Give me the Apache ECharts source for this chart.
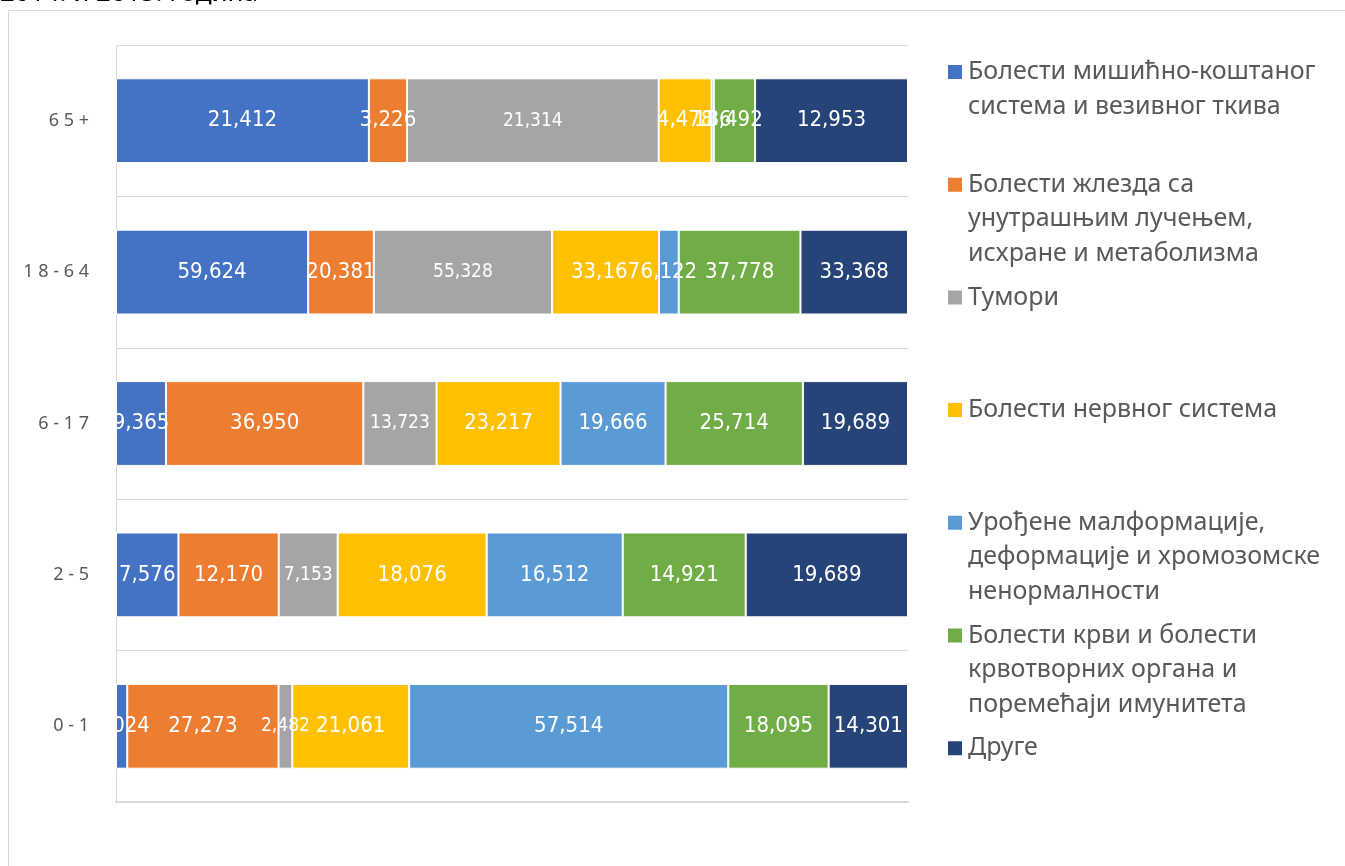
<!DOCTYPE html>
<html>
	<head>
		<meta charset="utf-8">
		<title></title>
		<script src="https://cdn.jsdelivr.net/npm/echarts@6/dist/echarts.min.js"></script>
		<style>
			html, body { margin: 0; padding: 0; background: #fff; }
		</style>
	</head>
	<body>
		<div id="main" style="width: 1345px;height:866px;"></div>
		<script>
			// категорије (одоздо нагоре)
			var categories = ['0-1', '2-5', '6-17', '18-64', '65+'];

			// серије, вредности по категоријама
			var musculo = [2024, 7576, 9365, 59624, 21412];
			var glands = [27273, 12170, 36950, 20381, 3226];
			var tumors = [2482, 7153, 13723, 55328, 21314];
			var nervous = [21061, 18076, 23217, 33167, 4478];
			var congenital = [57514, 16512, 19666, 6122, 186];
			var blood = [18095, 14921, 25714, 37778, 3492];
			var other = [14301, 19689, 19689, 33368, 12953];

			var names = [
				'Болести мишићно-коштаног\nсистема и везивног ткива',
				'Болести жлезда са\nунутрашњим лучењем,\nисхране и метаболизма',
				'Тумори',
				'Болести нервног система',
				'Урођене малформације,\nдеформације и хромозомске\nненормалности',
				'Болести крви и болести\nкрвотворних органа и\nпоремећаји имунитета',
				'Друге'
			];
			var colors = ['#4472C4', '#ED7D31', '#A5A5A5', '#FFC000', '#5B9BD5', '#70AD47', '#264478'];
			var seriesValues = [musculo, glands, tumors, nervous, congenital, blood, other];

			// збир по категорији, за 100% слагање
			var totals = categories.map(function(c, i) {
				return seriesValues.reduce(function(s, arr) { return s + arr[i]; }, 0);
			});

			var myChart = echarts.init(document.getElementById('main'));

			var lh = 34.5;
			// иконица стоји уз први ред: празни редови изнад центрирају први ред на иконици
			var legends = names.map(function(n, i) {
				var lines = n.split('\n').length;
				var c = 72 + 112.7 * i; // средина првог реда
				return {
					data: [n],
					orient: 'vertical',
					left: 946,
					top: c - (2 * lines - 1) * lh / 2,
					padding: 0,
					icon: 'rect',
					itemWidth: 16,
					itemHeight: 16,
					selectedMode: false,
					formatter: function(name) {
						return new Array(lines).join(' \n') + name;
					},
					textStyle: {
						fontFamily: 'Noto Sans',
						fontSize: 25,
						color: '#595959',
						lineHeight: lh
					}
				};
			});

			var series = seriesValues.map(function(arr, k) {
				return {
					name: names[k],
					type: 'bar',
					stack: 'total',
					barCategoryGap: '44%',
					itemStyle: {
						color: colors[k],
						borderColor: '#fff',
						borderWidth: 1
					},
					label: {
						show: true,
						position: 'inside',
						color: '#fff',
						fontFamily: 'Liberation Sans Narrow, DejaVu Sans Condensed, sans-serif',
						fontSize: k == 2 ? 19 : 22,
						formatter: function(p) {
							return arr[p.dataIndex].toLocaleString('en-US');
						}
					},
					data: arr.map(function(v, i) { return v / totals[i] * 100; })
				};
			});

			option = {
				animation: false,
				color: colors,
				graphic: [
					{
						type: 'rect',
						z: -10,
						shape: { x: 8.5, y: 10.5, width: 1400, height: 900 },
						style: { fill: 'none', stroke: '#d9d9d9', lineWidth: 1 }
					},
					{
						type: 'text',
						left: 0,
						top: -19.5,
						style: {
							text: '2014. и 2015. година',
							fontFamily: 'Noto Sans',
							fontSize: 26,
							fill: '#000'
						}
					}
				],
				legend: legends,
				grid: {
					left: 116,
					right: 437,
					top: 45,
					bottom: 64,
					containLabel: false
				},
				xAxis: {
					type: 'value',
					min: 0,
					max: 100,
					axisLabel: { show: false },
					axisTick: { show: false },
					splitLine: { show: false },
					axisLine: { show: true, lineStyle: { color: '#d9d9d9', width: 2 } }
				},
				yAxis: {
					type: 'category',
					data: categories,
					axisTick: { show: false },
					axisLine: { show: true, lineStyle: { color: '#d9d9d9', width: 1 } },
					splitLine: { show: true, lineStyle: { color: '#d9d9d9', width: 1 } },
					axisLabel: {
						margin: 27,
						fontFamily: 'Noto Sans',
						fontSize: 18,
						color: '#595959',
						formatter: function(v) { return v.split('').join(' '); }
					}
				},
				series: series
			};
			myChart.setOption(option);
		</script>
	</body>
</html>
